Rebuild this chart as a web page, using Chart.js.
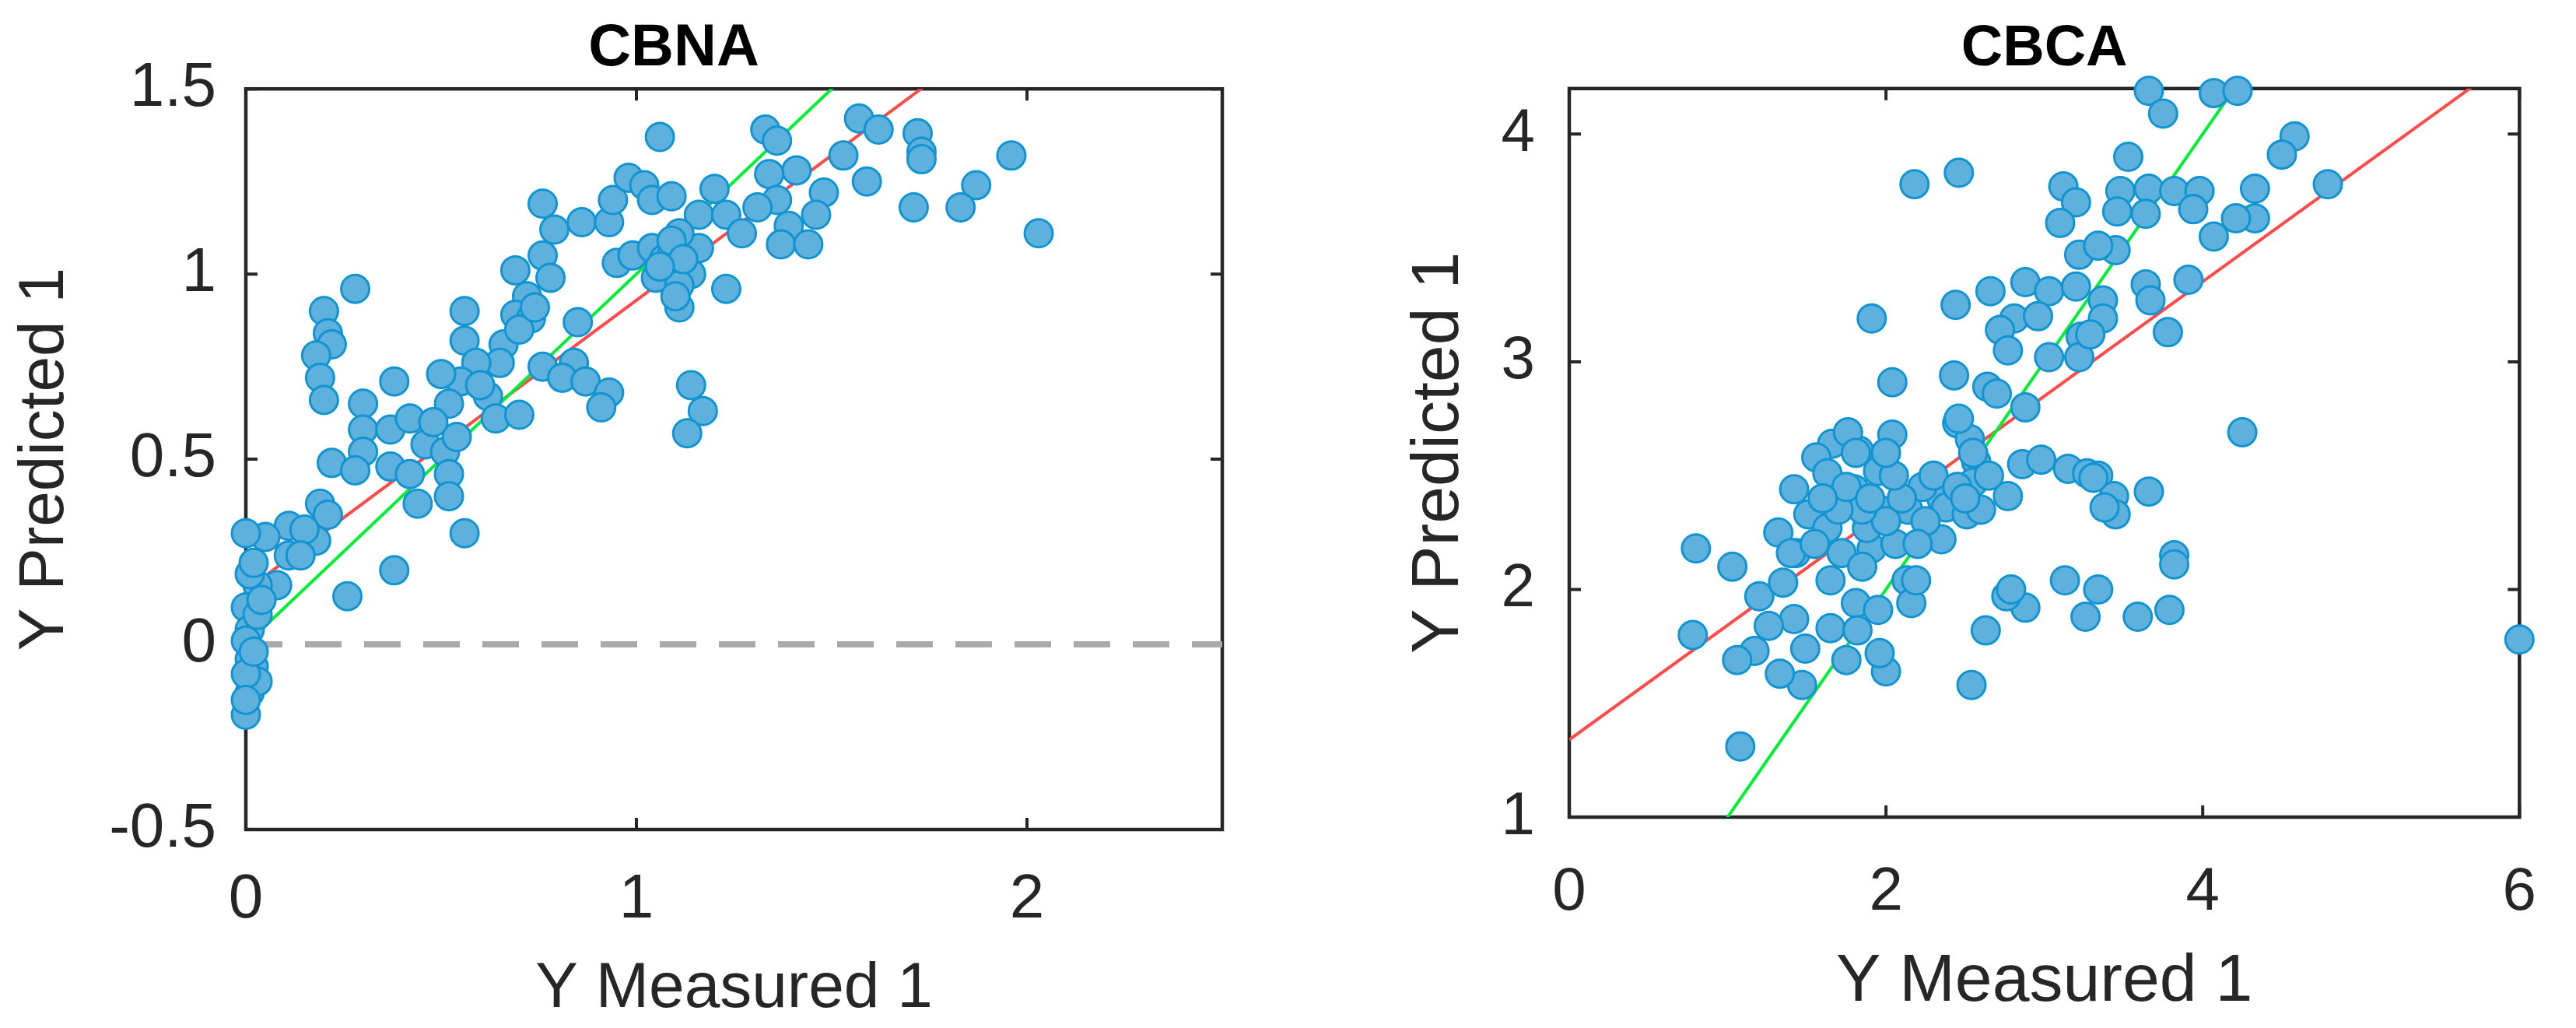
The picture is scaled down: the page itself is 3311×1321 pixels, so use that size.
<!DOCTYPE html>
<html>
<head>
<meta charset="utf-8">
<title>CBNA / CBCA</title>
<script src="https://cdn.jsdelivr.net/npm/chart.js@4.4.1/dist/chart.umd.min.js"></script>
<style>
  html, body { margin: 0; padding: 0; background: #fff; }
  body { width: 3311px; height: 1321px; position: relative; overflow: hidden; }
  canvas { position: absolute; top: 0; }
  #cbca { left: 1650px; }
  #cbna { left: 0; }
</style>
</head>
<body>
<canvas id="cbca" width="1661" height="1321"></canvas>
<canvas id="cbna" width="1732" height="1321"></canvas>
<script>
// ---- CBNA (left panel) ----
const cbnaMeasured = [
  1.06, 0.76, 0.79, 0.86, 0.93, 0.94, 0.98, 1.02, 1.04, 0.76,
  0.69, 0.78, 0.72, 0.69, 0.73, 0.66, 0.65, 0.56, 0.56, 0.59,
  0.55, 0.52, 0.50, 0.62, 0.64, 0.70, 0.76, 0.84, 0.85, 0.81,
  0.87, 0.93, 0.91, 0.95, 0.99, 1.04, 1.05, 1.07, 0.28, 0.20,
  0.21, 0.22, 0.18, 0.19, 0.20, 0.38, 0.30, 0.30, 0.30, 0.22,
  0.28, 0.37, 0.42, 0.37, 0.42, 0.46, 0.51, 0.52, 0.54, 0.52,
  0.44, 0.19, 0.56, 0.38, 0.26, 0.21, 0.18, 0.11, 0.11, 0.05,
  0.00, 0.08, 0.03, 0.00, 0.01, 0.01, 0.02, 0.01, 0.00, 0.03,
  0.00, 0.00, 0.01, 0.03, 0.15, 0.14, 0.02, 0.00, 0.02, 0.04,
  1.33, 1.36, 1.57, 1.62, 1.72, 1.73, 1.73, 1.96, 1.53, 1.59,
  1.87, 1.83, 1.71, 2.03, 1.41, 1.34, 1.36, 1.48, 1.46, 1.31,
  1.39, 1.37, 1.44, 1.20, 1.16, 1.23, 1.27, 1.16, 1.11, 1.14,
  1.11, 1.23, 1.14, 1.17, 1.13, 1.09, 1.09, 1.11, 1.09, 1.12,
  1.06, 1.10, 0.70, 0.74, 0.48, 0.60
];
const cbnaPredicted = [
  1.37, 1.19, 1.12, 1.14, 1.14, 1.20, 1.26, 1.24, 1.20, 1.05,
  1.01, 0.99, 0.94, 0.89, 0.88, 0.81, 0.76, 0.90, 0.82, 0.76,
  0.71, 0.65, 0.73, 0.67, 0.61, 0.62, 0.75, 0.76, 0.87, 0.72,
  0.71, 0.68, 0.64, 1.03, 1.05, 1.07, 0.99, 1.04, 0.96, 0.90,
  0.84, 0.81, 0.78, 0.72, 0.66, 0.71, 0.65, 0.58, 0.52, 0.49,
  0.47, 0.58, 0.61, 0.48, 0.46, 0.54, 0.52, 0.46, 0.56, 0.40,
  0.38, 0.38, 0.30, 0.20, 0.13, 0.35, 0.28, 0.32, 0.24, 0.29,
  0.30, 0.16, 0.16, 0.10, 0.04, -0.04, -0.06, -0.13, -0.19, -0.10,
  0.01, -0.08, 0.19, 0.08, 0.31, 0.24, 0.22, -0.15, -0.02, 0.12,
  1.39, 1.36, 1.42, 1.39, 1.38, 1.33, 1.31, 1.32, 1.32, 1.25,
  1.24, 1.18, 1.18, 1.11, 1.28, 1.27, 1.20, 1.22, 1.16, 1.18,
  1.13, 1.08, 1.08, 1.23, 1.16, 1.16, 1.11, 1.07, 1.11, 1.00,
  0.91, 0.96, 0.70, 0.63, 0.57, 1.21, 1.05, 0.97, 1.09, 1.04,
  1.02, 0.94, 0.85, 0.91, 0.60, 0.70
];
const cbnaFitX = [0, 2.5];
const cbnaFitY = [0.146, 2.104];
const cbnaIdentityX = [0, 2.5];
const cbnaIdentityY = [0, 2.5];
const cbnaZeroX = [0, 2.5];
const cbnaZeroY = [0, 0];
const cbnaXTicks = [0, 1, 2];
const cbnaYTicks = [-0.5, 0, 0.5, 1, 1.5];

// ---- CBCA (right panel) ----
const cbcaMeasured = [
  2.18, 2.46, 1.91, 2.44, 2.66, 2.88, 3.12, 3.20, 3.10, 3.22,
  3.03, 3.20, 2.81, 2.96, 2.72, 2.77, 3.03, 3.23, 3.22, 2.04,
  2.43, 2.64, 2.70, 2.88, 2.45, 2.53, 2.57, 2.55, 2.86, 2.98,
  3.15, 3.27, 2.04, 1.83, 1.66, 1.56, 1.76, 1.42, 1.95, 1.63,
  2.77, 2.35,
  3.66, 3.75, 4.07, 4.22, 4.58, 4.50, 4.79, 3.53, 3.48, 3.66,
  3.82, 3.98, 3.94, 3.64, 3.46, 4.33, 4.33, 4.21, 4.07, 3.45,
  3.34, 3.91, 3.64, 3.67, 3.78, 3.37, 3.37, 3.29, 4.25, 3.34,
  3.44, 3.45, 3.66,
  3.82, 3.82, 3.79, 3.59, 6.00, 3.34, 3.26, 3.13, 2.88, 2.76,
  2.79, 2.63, 2.54,
  0.80, 1.03, 0.78, 1.08, 1.32, 1.43, 1.51, 1.81, 1.96, 2.14,
  2.23, 1.80, 1.72, 1.91, 2.06, 1.65, 1.81, 1.95, 2.13, 2.16,
  1.65, 1.82, 1.75, 2.00, 1.96, 1.49, 1.47, 1.33, 1.17, 1.06,
  1.20, 1.35, 1.42, 1.26, 1.40, 2.38, 2.51, 2.35, 2.46, 3.31,
  3.38, 2.19, 1.63, 1.88, 2.00, 2.10, 1.85, 2.25, 1.70, 2.30,
  2.60, 2.45, 2.65, 1.75, 1.90, 2.05, 1.60, 1.55, 2.00, 1.85,
  2.20, 2.55, 2.50
];
const cbcaPredicted = [
  3.78, 3.83, 3.19, 3.25, 3.31, 3.35, 3.77, 3.70, 3.61, 3.47,
  3.31, 3.33, 3.19, 3.20, 3.14, 3.05, 3.02, 3.11, 3.02, 2.91,
  2.94, 2.89, 2.86, 2.80, 2.73, 2.66, 2.56, 2.47, 2.55, 2.57,
  2.53, 2.51, 2.68, 2.61, 2.64, 2.58, 2.69, 2.44, 2.52, 2.51,
  2.41, 2.40,
  4.19, 4.09, 4.18, 4.19, 3.99, 3.91, 3.78, 3.90, 3.75, 3.76,
  3.75, 3.75, 3.67, 3.65, 3.66, 3.76, 3.63, 3.63, 3.55, 3.49,
  3.51, 3.36, 3.34, 3.27, 3.13, 3.27, 3.19, 3.12, 2.69, 2.50,
  2.41, 2.33, 2.43,
  2.15, 2.11, 1.91, 1.88, 1.78, 2.00, 1.88, 2.04, 1.92, 1.97,
  2.00, 1.82, 1.58,
  2.18, 2.10, 1.80, 1.31, 2.25, 2.16, 2.33, 2.60, 2.35, 2.35,
  2.45, 2.44, 2.16, 2.18, 2.20, 2.04, 1.94, 1.91, 2.04, 1.94,
  1.83, 1.82, 1.69, 1.64, 1.72, 1.74, 1.58, 1.63, 1.73, 1.69,
  1.97, 2.03, 1.87, 1.84, 2.16, 2.36, 2.33, 2.22, 2.75, 2.49,
  2.36, 2.04, 2.27, 2.27, 2.30, 2.40, 2.35, 2.30, 2.35, 2.50,
  2.35, 2.45, 2.50, 2.45, 2.40, 2.50, 2.40, 2.20, 2.60, 2.10,
  2.20, 2.60, 2.40
];
const cbcaFitX = [0, 6];
const cbcaFitY = [1.34, 4.358];
const cbcaIdentityX = [0, 6];
const cbcaIdentityY = [0, 6];
const cbcaXTicks = [0, 2, 4, 6];
const cbcaYTicks = [1, 2, 3, 4];

const axisColor = '#262626';
const markerFill = 'rgb(94, 176, 221)';
const markerEdge = 'rgb(16, 148, 210)';

const toPoints = (xs, ys) => xs.map((x, i) => ({ x: x, y: ys[i] }));

// MATLAB-like box with inward tick marks on all four sides
const boxPlugin = {
  id: 'matlabBox',
  beforeDatasetsDraw(chart) {
    const { ctx, chartArea: a, scales } = chart;
    const len = 15;
    ctx.save();
    ctx.strokeStyle = axisColor;
    ctx.lineWidth = 4;
    ctx.beginPath();
    scales.x.ticks.forEach(t => {
      const px = scales.x.getPixelForValue(t.value);
      ctx.moveTo(px, a.bottom); ctx.lineTo(px, a.bottom - len);
      ctx.moveTo(px, a.top); ctx.lineTo(px, a.top + len);
    });
    scales.y.ticks.forEach(t => {
      const py = scales.y.getPixelForValue(t.value);
      ctx.moveTo(a.left, py); ctx.lineTo(a.left + len, py);
      ctx.moveTo(a.right, py); ctx.lineTo(a.right - len, py);
    });
    ctx.stroke();
    ctx.lineWidth = 4.5;
    ctx.strokeRect(a.left, a.top, a.right - a.left, a.bottom - a.top);
    ctx.restore();
  }
};

function lineSet(xs, ys, color, width, order, dash) {
  return {
    data: toPoints(xs, ys),
    showLine: true,
    borderColor: color,
    borderWidth: width,
    borderDash: dash || [],
    pointRadius: 0,
    fill: false,
    tension: 0,
    order: order
  };
}

function makeChart(id, cfg) {
  return new Chart(document.getElementById(id), {
    type: 'scatter',
    data: {
      datasets: [
        {
          data: toPoints(cfg.xs, cfg.ys),
          pointRadius: 18,
          pointBackgroundColor: markerFill,
          pointBorderColor: markerEdge,
          pointBorderWidth: 3,
          clip: false,
          order: 0
        },
        lineSet(cfg.identityX, cfg.identityY, '#00ee33', 4, 1),
        lineSet(cfg.fitX, cfg.fitY, '#ff4a4a', 4, 2)
      ].concat(cfg.extra || [])
    },
    options: {
      responsive: false,
      animation: false,
      events: [],
      layout: { padding: cfg.padding },
      plugins: {
        legend: { display: false },
        tooltip: { enabled: false },
        title: {
          display: true,
          text: cfg.title,
          color: '#000',
          fullSize: cfg.titleFull,
          font: { family: 'Liberation Sans, Arial, sans-serif', weight: 'bold', size: cfg.titleSize },
          padding: cfg.titlePad
        }
      },
      scales: Object.assign({
        x: {
          type: 'linear',
          min: cfg.xMin, max: cfg.xMax,
          afterBuildTicks: s => { s.ticks = cfg.xTicks.map(v => ({ value: v })); },
          afterFit: s => { s.height = cfg.xHeight; },
          grid: { display: false, drawTicks: false },
          border: { display: false },
          ticks: {
            padding: cfg.xTickPad, color: axisColor, maxRotation: 0,
            callback: v => String(v),
            font: { family: 'Liberation Sans, Arial, sans-serif', size: cfg.tickSize }
          },
          title: {
            display: true, text: 'Y Measured 1', color: axisColor,
            padding: { top: 0, bottom: cfg.xTitlePad },
            font: { family: 'Liberation Sans, Arial, sans-serif', size: cfg.labelSize }
          }
        },
        y: {
          type: 'linear',
          min: cfg.yMin, max: cfg.yMax,
          afterBuildTicks: s => { s.ticks = cfg.yTicks.map(v => ({ value: v })); },
          afterFit: s => { s.width = cfg.yWidth; },
          grid: { display: false, drawTicks: false },
          border: { display: false },
          ticks: {
            padding: cfg.yTickPad, color: axisColor,
            callback: v => String(v),
            font: { family: 'Liberation Sans, Arial, sans-serif', size: cfg.tickSize }
          },
          title: {
            display: true, text: 'Y Predicted 1', color: axisColor,
            padding: { top: cfg.yTitlePad, bottom: 0 },
            font: { family: 'Liberation Sans, Arial, sans-serif', size: cfg.labelSize }
          }
        }
      }, cfg.extraScales || {})
    },
    plugins: [boxPlugin]
  });
}

makeChart('cbna', {
  title: 'CBNA', titleFull: true, titleSize: 76, titlePad: { top: 17, bottom: 6 },
  xs: cbnaMeasured, ys: cbnaPredicted,
  fitX: cbnaFitX, fitY: cbnaFitY,
  identityX: cbnaIdentityX, identityY: cbnaIdentityY,
  extra: [lineSet(cbnaZeroX, cbnaZeroY, '#aaaaaa', 8, 3, [47, 29])],
  xMin: 0, xMax: 2.5, yMin: -0.5, yMax: 1.5,
  xTicks: cbnaXTicks, yTicks: cbnaYTicks,
  padding: { left: 0, right: 0, top: 0, bottom: 0 },
  xHeight: 255, yWidth: 316,
  tickSize: 80, labelSize: 82,
  xTickPad: 43, yTickPad: 38, xTitlePad: 0, yTitlePad: 9,
  extraScales: {
    y2: {
      type: 'linear', position: 'right', display: true,
      afterFit: s => { s.width = 161; },
      grid: { display: false, drawTicks: false },
      border: { display: false },
      ticks: { display: false }
    }
  }
});

makeChart('cbca', {
  title: 'CBCA', titleFull: false, titleSize: 74, titlePad: { top: 19, bottom: 6 },
  xs: cbcaMeasured, ys: cbcaPredicted,
  fitX: cbcaFitX, fitY: cbcaFitY,
  identityX: cbcaIdentityX, identityY: cbcaIdentityY,
  xMin: 0, xMax: 6, yMin: 1, yMax: 4.2,
  xTicks: cbcaXTicks, yTicks: cbcaYTicks,
  padding: { left: 0, right: 40, top: 0, bottom: 0 },
  xHeight: 271, yWidth: 367,
  tickSize: 78, labelSize: 86,
  xTickPad: 51, yTickPad: 44, xTitlePad: 7, yTitlePad: 149
});
</script>
</body>
</html>
